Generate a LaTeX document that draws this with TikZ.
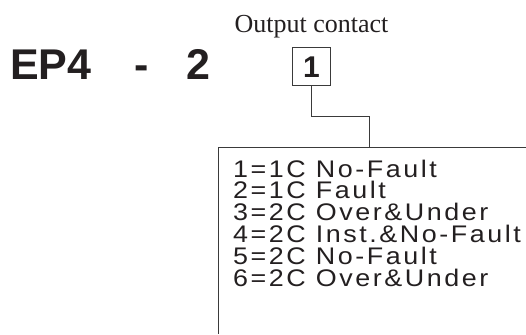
\documentclass[tikz,border=0pt]{standalone}
\usepackage{graphicx}
\usepackage{fontspec}
\setmainfont{Liberation Serif}
\newfontfamily\hdfont{Liberation Sans}
\newfontfamily\lsfont[LetterSpace=9.5]{Liberation Sans}
\definecolor{ink}{HTML}{231F20}
\definecolor{rule}{HTML}{3A3A3A}
\newcommand{\widetext}[1]{\scalebox{1.12}[1]{#1}}
\tikzset{
  title/.style={font=\fontsize{26}{30}\selectfont, text=ink, inner sep=0pt},
  code/.style={font=\hdfont\bfseries\fontsize{43}{47}\selectfont, text=ink, inner sep=0pt},
  digitbox/.style={draw=rule, line width=1pt, minimum width=38pt, minimum height=38pt, inner sep=0pt,
    font=\hdfont\bfseries\fontsize{30}{34}\selectfont, text=ink},
  listtext/.style={font=\lsfont\fontsize{24}{28}\selectfont, text=ink, inner sep=0pt},
  wire/.style={draw=rule, line width=1pt},
}
\begin{document}
\begin{tikzpicture}[x=1pt,y=-1pt]
\useasboundingbox (0,0) rectangle (526,334);
\node[title, anchor=base] (head) at (311.5,33) {Output contact};
\node[code, anchor=base west] (ep) at (10,80) {EP4};
\node[code, anchor=base] (dash) at (142,80) {-};
\node[code, anchor=base] (two) at (198,80) {2};
\node[digitbox] (b) at (311.5,67) {1};
\coordinate (turn) at (311.5,116);
\coordinate (k) at (369,147);
\draw[wire] (b.south) -- (turn) -| (k);
\coordinate (tr) at (526,147);
\coordinate (tl) at (218,147);
\coordinate (bl) at (218,334);
\draw[wire] (tr) -- (tl) -- (bl);
\foreach \t [count=\i] in {1=1C No-Fault,2=1C Fault,3=2C Over\&Under,4=2C Inst.\&No-Fault,5=2C No-Fault,6=2C Over\&Under}
  \node[listtext, anchor=base west] (l\i) at (233,{177+21.9*(\i-1)}) {\widetext{\t}};
\end{tikzpicture}
\end{document}
